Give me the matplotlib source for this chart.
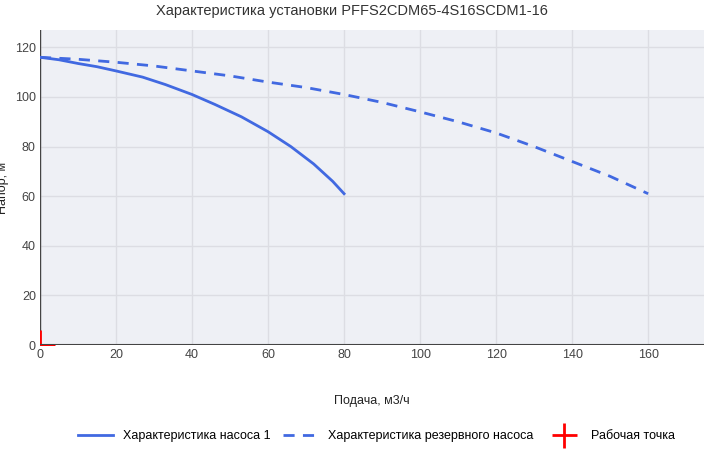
import matplotlib
matplotlib.use("Agg")
import matplotlib.pyplot as plt
from matplotlib.lines import Line2D

q1 = [0, 5, 10, 15, 20, 27, 33, 40, 46, 53, 60, 66, 72, 77, 80]
h1 = [116, 115, 113.5, 112.2, 110.5, 108, 105, 101, 97, 92, 86, 80, 73, 66, 61]
q2 = [0, 10, 20, 30, 40, 50, 60, 70, 80, 90, 100, 110, 120, 130, 140, 150, 160]
h2 = [116, 115.2, 114, 112.5, 110.5, 108.5, 106, 103.8, 101, 97.8, 94, 90, 85.5, 80, 74, 68, 61]
wp_q = [0]
wp_h = [0]

plt.rcParams['font.family'] = ['Liberation Sans', 'DejaVu Sans']
fig = plt.figure(figsize=(7.04, 4.5), dpi=100)
ax = fig.add_axes([40/704, 1-345/450, 664/704, 315/450])
ax.set_facecolor('#eef0f5')
ax.grid(True, color='#dcdde3', lw=1)
ax.set_axisbelow(True)
for s in ax.spines.values():
    s.set_visible(False)
ax.axhline(0, color='#444', lw=1.5, zorder=6)
ax.axvline(0, color='#444', lw=1, zorder=1)
c = '#4169e1'
ax.plot(q1, h1, color=c, lw=2, label='Характеристика насоса 1')
ax.plot(q2, h2, color=c, lw=2, ls=(0, (4, 3)), label='Характеристика резервного насоса')
ax.plot(wp_q, wp_h, marker='+', color='red', ms=22, mew=2, ls='none', label='Рабочая точка', clip_on=True, zorder=3)
ax.set_xlim(0, 174.7)
ax.set_ylim(0, 127)
ax.set_xticks(range(0, 161, 20))
ax.set_yticks(range(0, 121, 20))
ax.tick_params(length=0, labelsize=9, colors='#444', pad=3)
ax.set_xlabel('Подача, м3/ч', fontsize=9, color='#222', labelpad=24)
ax.set_ylabel('Напор, м', fontsize=9, color='#222', labelpad=4)
fig.suptitle('Характеристика установки PFFS2CDM65-4S16SCDM1-16', y=0.99, fontsize=10.5, color='#333')
handles = [Line2D([], [], color=c, lw=2),
           Line2D([], [], color=c, lw=2, ls=(0, (4, 3))),
           Line2D([], [], color='red', marker='+', ms=18, mew=2, ls='none')]
fig.legend(handles, ['Характеристика насоса 1', 'Характеристика резервного насоса', 'Рабочая точка'],
           loc='center', bbox_to_anchor=(0.535, 1-436/450), ncol=3, frameon=False, fontsize=9,
           handlelength=2.8, columnspacing=1.0)
fig.savefig('out.png', dpi=100, facecolor='white')
